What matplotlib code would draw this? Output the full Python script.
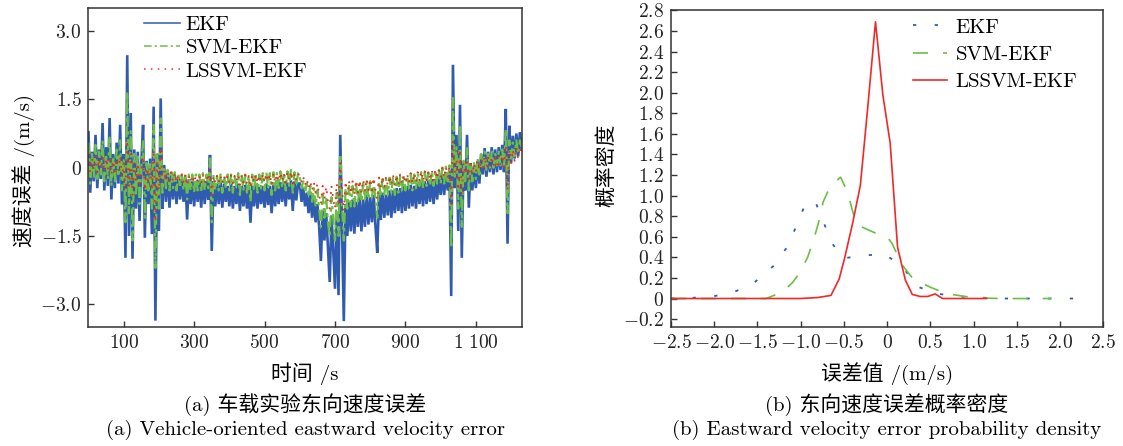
import numpy as np
import matplotlib
matplotlib.use("Agg")
import matplotlib.pyplot as plt
from matplotlib.ticker import FixedLocator, FuncFormatter

plt.rcParams['font.family'] = ['cmr10', 'Noto Sans CJK SC', 'DejaVu Sans']
plt.rcParams['mathtext.fontset'] = 'cm'
plt.rcParams['axes.unicode_minus'] = False

# ---------------- (a) eastward velocity error, sampled every 5 s ----------------
time_s = np.arange(0, 1231, 5)

ekf_err = [
    0.78, -0.55, 0.35, -0.30, 0.72, -0.45, 0.40, -0.25, 0.98, -0.50,
    0.45, -0.40, 1.09, -0.70, 0.30, -0.45, 0.55, -0.35, 0.94, -0.81,
    0.30, -1.98, 2.47, -1.50, 1.20, -2.00, 0.40, -0.90, 0.35, -1.17,
    0.10, 0.94, -1.54, 0.15, -0.80, 0.20, -1.46, 1.34, -3.36, 0.30,
    -1.39, 1.52, -0.90, 0.06, -0.75, -0.05, -0.88, -0.10, -0.70, -0.15,
    -0.80, -0.20, -0.70, -0.25, -0.75, -0.22, -1.14, -0.25, -0.80, -0.30,
    -0.85, -0.30, -0.75, -0.28, -0.88, -0.25, -0.80, -0.30, -0.70, 0.28,
    -1.83, -0.30, -0.85, -0.35, -0.80, -0.30, -0.88, -0.35, -0.75, -0.40,
    -0.85, -0.35, -0.90, -0.40, -0.80, -0.35, -0.95, -0.40, -0.85, -0.38,
    -0.90, -0.42, -1.21, -0.40, -0.85, -0.38, -0.90, -0.42, -0.80, -0.40,
    -0.88, -0.35, -0.82, -0.40, -1.00, -0.35, -0.85, -0.38, -0.80, -0.32,
    -0.75, -0.30, -0.85, -0.33, -0.70, -0.28, -0.95, -0.30, -0.72, -0.35,
    -0.35, -0.75, -0.45, -0.85, -0.55, -1.00, -0.60, -1.10, -0.70, -1.20,
    -0.80, -1.30, -2.05, -0.95, -1.60, -1.00, -1.75, -2.51, -1.05, -1.80,
    -2.66, -1.00, -2.80, 0.72, -1.30, -3.37, -0.80, -1.50, -0.75, -1.40,
    -0.70, -1.45, -0.75, -1.30, -0.65, -1.40, -0.70, -1.30, -0.60, -1.25,
    -0.65, -1.20, -0.60, -1.30, -1.87, -0.60, -1.15, -0.55, -1.10, -0.60,
    -1.05, -0.50, -1.10, -0.50, -1.00, -0.45, -0.95, -0.45, -1.00, -0.40,
    -0.95, -0.40, -0.90, -0.38, -0.85, -0.40, -0.90, -0.35, -0.80, -0.30,
    -0.85, -0.30, -0.80, -0.28, -0.75, -0.25, -0.80, -0.25, -0.70, -0.22,
    -0.60, -0.15, -0.60, -0.10, -0.50, -0.05, -2.82, 2.26, -0.45, 0.72,
    -1.39, 1.38, -1.98, 0.10, -0.50, 0.72, -0.88, 0.10, -0.50, 0.05,
    -0.45, 0.15, -0.35, 0.30, -0.15, 0.43, -0.20, 0.35, -0.10, 0.45,
    -0.15, 0.40, -0.10, 0.45, -0.05, 0.50, -0.10, 1.29, -1.67, 0.92,
    0.10, 0.70, 0.20, 0.75, 0.25, 0.78, 0.40,
]

svm_ekf_err = [
    0.55, -0.35, 0.30, -0.20, 0.50, -0.30, 0.35, -0.15, 0.60, -0.30,
    0.30, -0.25, 0.70, -0.40, 0.25, -0.30, 0.40, -0.20, 0.60, -0.50,
    0.20, -1.20, 1.67, -1.00, 0.80, -1.60, 0.30, -0.60, 0.30, -0.80,
    0.05, 0.60, -1.10, 0.10, -0.50, 0.10, -0.90, 0.94, -2.20, 0.30,
    -0.90, 1.08, -0.55, 0.00, -0.45, -0.05, -0.50, -0.05, -0.45, -0.10,
    -0.50, -0.12, -0.45, -0.15, -0.50, -0.12, -0.70, -0.15, -0.50, -0.15,
    -0.55, -0.15, -0.50, -0.15, -0.55, -0.12, -0.50, -0.15, -0.45, 0.20,
    -1.20, -0.15, -0.50, -0.18, -0.50, -0.15, -0.55, -0.18, -0.45, -0.15,
    -0.50, -0.15, -0.55, -0.18, -0.45, -0.12, -0.60, -0.15, -0.50, -0.15,
    -0.55, -0.18, -0.75, -0.15, -0.50, -0.12, -0.55, -0.15, -0.45, -0.12,
    -0.50, -0.10, -0.45, -0.12, -0.60, -0.10, -0.50, -0.12, -0.45, -0.08,
    -0.45, -0.10, -0.50, -0.08, -0.40, -0.05, -0.55, -0.10, -0.40, -0.12,
    -0.20, -0.45, -0.30, -0.55, -0.35, -0.65, -0.40, -0.75, -0.45, -0.85,
    -0.50, -0.90, -1.30, -0.60, -1.10, -0.65, -1.20, -1.50, -0.65, -1.10,
    -1.60, -0.55, -1.50, 0.30, -0.80, -1.60, -0.45, -0.90, -0.40, -0.85,
    -0.40, -0.85, -0.35, -0.80, -0.35, -0.75, -0.35, -0.70, -0.30, -0.70,
    -0.30, -0.65, -0.30, -0.70, -1.10, -0.30, -0.65, -0.25, -0.60, -0.25,
    -0.60, -0.22, -0.55, -0.20, -0.60, -0.20, -0.55, -0.20, -0.50, -0.18,
    -0.50, -0.18, -0.45, -0.15, -0.50, -0.15, -0.45, -0.12, -0.40, -0.10,
    -0.45, -0.10, -0.40, -0.10, -0.40, -0.08, -0.40, -0.05, -0.35, -0.05,
    -0.35, 0.00, -0.35, 0.02, -0.30, 0.05, -1.76, 1.53, -0.20, 0.45,
    -0.90, 0.95, -1.30, 0.15, -0.30, 0.45, -0.50, 0.10, -0.30, 0.10,
    -0.25, 0.20, -0.15, 0.30, -0.05, 0.35, -0.05, 0.30, 0.00, 0.35,
    0.00, 0.30, 0.05, 0.35, 0.05, 0.40, 0.00, 0.85, -1.00, 0.60,
    0.20, 0.55, 0.25, 0.60, 0.30, 0.60, 0.45,
]

lssvm_ekf_err = [
    0.30, -0.10, 0.20, -0.05, 0.25, -0.10, 0.20, 0.00, 0.30, -0.10,
    0.20, -0.05, 0.25, -0.15, 0.15, -0.10, 0.20, -0.05, 0.25, -0.20,
    0.10, -0.50, 0.60, -0.40, 0.30, -0.60, 0.10, -0.30, 0.10, -0.35,
    -0.05, 0.25, -0.50, 0.00, -0.30, 0.00, -0.50, 0.40, -1.20, 0.10,
    -0.50, 0.45, -0.30, -0.05, -0.30, -0.10, -0.30, -0.10, -0.30, -0.12,
    -0.32, -0.15, -0.30, -0.15, -0.33, -0.15, -0.40, -0.18, -0.32, -0.17,
    -0.33, -0.17, -0.30, -0.18, -0.35, -0.16, -0.33, -0.18, -0.30, -0.05,
    -0.60, -0.18, -0.33, -0.18, -0.32, -0.17, -0.35, -0.18, -0.30, -0.17,
    -0.33, -0.17, -0.35, -0.18, -0.30, -0.15, -0.38, -0.17, -0.33, -0.16,
    -0.35, -0.18, -0.45, -0.15, -0.32, -0.15, -0.35, -0.16, -0.30, -0.14,
    -0.33, -0.13, -0.30, -0.14, -0.38, -0.12, -0.33, -0.14, -0.30, -0.10,
    -0.30, -0.12, -0.33, -0.10, -0.28, -0.08, -0.35, -0.12, -0.28, -0.15,
    -0.15, -0.32, -0.20, -0.38, -0.25, -0.45, -0.30, -0.50, -0.32, -0.55,
    -0.35, -0.60, -0.80, -0.40, -0.70, -0.42, -0.75, -0.90, -0.40, -0.70,
    -0.90, -0.35, -0.85, 0.10, -0.50, -0.95, -0.30, -0.60, -0.30, -0.58,
    -0.30, -0.60, -0.28, -0.55, -0.28, -0.55, -0.27, -0.52, -0.25, -0.50,
    -0.25, -0.50, -0.22, -0.50, -0.70, -0.22, -0.45, -0.20, -0.42, -0.20,
    -0.40, -0.18, -0.38, -0.17, -0.40, -0.16, -0.38, -0.15, -0.35, -0.15,
    -0.35, -0.14, -0.33, -0.12, -0.35, -0.12, -0.32, -0.10, -0.30, -0.08,
    -0.30, -0.08, -0.28, -0.07, -0.28, -0.05, -0.27, -0.04, -0.25, -0.03,
    -0.22, 0.00, -0.22, 0.02, -0.20, 0.03, -0.80, 0.60, -0.12, 0.20,
    -0.50, 0.40, -0.60, 0.10, -0.15, 0.20, -0.25, 0.08, -0.15, 0.10,
    -0.10, 0.15, -0.05, 0.20, 0.00, 0.25, 0.00, 0.22, 0.02, 0.25,
    0.02, 0.22, 0.05, 0.25, 0.05, 0.28, 0.02, 0.50, -0.50, 0.40,
    0.10, 0.40, 0.15, 0.45, 0.20, 0.45, 0.35,
]

time_ticks = [100, 300, 500, 700, 900, 1100]
time_tick_labels = ['100', '300', '500', '700', '900', '1\\ 100']
vel_ticks = [3.0, 1.5, 0.0, -1.5, -3.0]

# ---------------- (b) probability density of the error ----------------
pdf_ekf_x = [-2.5, -2.26, -2.02, -1.78, -1.55, -1.31, -1.14, -1.04, -0.94, -0.83,
             -0.74, -0.64, -0.51, -0.27, -0.03, 0.17, 0.34, 0.55, 0.82, 1.06, 1.30, 2.3]
pdf_ekf_y = [0.0, 0.006, 0.02, 0.06, 0.145, 0.32, 0.52, 0.73, 0.93, 0.94,
             0.75, 0.54, 0.39, 0.42, 0.43, 0.32, 0.12, 0.05, 0.02, 0.01, 0.0, 0.0]

pdf_svm_x = [-2.5, -1.78, -1.4, -1.22, -1.1, -1.01, -0.92, -0.84, -0.79, -0.74,
             -0.67, -0.6, -0.54, -0.46, -0.40, -0.36, -0.33, -0.2, -0.09, 0.0,
             0.06, 0.17, 0.30, 0.5, 0.67, 0.9, 1.06, 1.3, 1.9]
pdf_svm_y = [0.0, 0.0, 0.0, 0.06, 0.15, 0.25, 0.40, 0.60, 0.75, 0.94,
             1.07, 1.13, 1.18, 1.04, 0.85, 0.74, 0.71, 0.66, 0.62, 0.60,
             0.53, 0.33, 0.19, 0.11, 0.05, 0.02, 0.006, 0.0, 0.0]

pdf_lssvm_x = [-2.5, -1.0, -0.8, -0.65, -0.555, -0.49, -0.40, -0.31, -0.22, -0.135,
               -0.05, 0.035, 0.12, 0.21, 0.29, 0.38, 0.47, 0.555, 0.64, 1.15]
pdf_lssvm_y = [0.0, 0.0, 0.01, 0.03, 0.19, 0.40, 0.73, 1.10, 1.90, 2.69,
               1.98, 1.51, 0.50, 0.18, 0.04, 0.02, 0.02, 0.045, 0.0, 0.0]

err_ticks = [-2.5, -2.0, -1.5, -1.0, -0.5, 0.0, 0.5, 1.0, 1.5, 2.0, 2.5]
dens_ticks = [-0.2, 0.0, 0.2, 0.4, 0.6, 0.8, 1.0, 1.2, 1.4, 1.6, 1.8, 2.0,
              2.2, 2.4, 2.6, 2.8]

BLUE = '#2f5cb0'
GREEN = '#6cbf45'
RED = '#f02828'
FRAME = '#333333'
TICK_FS = 14
LABEL_FS = 15


def num_label(v, _pos=None):
    if abs(v) < 1e-9:
        return '$0$'
    return '${:.1f}$'.format(v)


def style_axes(ax):
    for sp in ax.spines.values():
        sp.set_color(FRAME)
        sp.set_linewidth(1.1)
    ax.tick_params(direction='in', length=4, width=1.0, color=FRAME,
                   labelsize=TICK_FS, labelcolor='#222222', pad=5)


fig = plt.figure(figsize=(11.23, 4.46), dpi=100)

# ---- left panel ----
ax1 = fig.add_axes([0.0788, 0.2668, 0.3857, 0.7146])
ax1.plot(time_s, ekf_err, color=BLUE, lw=1.9, solid_joinstyle='miter',
         label='EKF')
ax1.plot(time_s, svm_ekf_err, color=GREEN, lw=1.6, dashes=(5, 2, 1.5, 2),
         label='SVM-EKF')
ax1.plot(time_s, lssvm_ekf_err, color=RED, lw=1.3, dashes=(1, 3.5),
         label='LSSVM-EKF')
ax1.set_xlim(0, 1230)
ax1.set_ylim(-3.5, 3.5)
ax1.xaxis.set_major_locator(FixedLocator(time_ticks))
ax1.xaxis.set_major_formatter(FuncFormatter(
    lambda v, p: '$' + time_tick_labels[time_ticks.index(int(round(v)))] + '$'))
ax1.yaxis.set_major_locator(FixedLocator(vel_ticks))
ax1.yaxis.set_major_formatter(FuncFormatter(num_label))
style_axes(ax1)
ax1.set_xlabel('时间 /s', fontsize=LABEL_FS)
ax1.xaxis.set_label_coords(0.5, -0.145)
ax1.xaxis.label.set_verticalalignment('center')
ax1.set_ylabel('速度误差 /(m/s)', fontsize=LABEL_FS)
ax1.yaxis.set_label_coords(-0.149, 0.49)
ax1.yaxis.label.set_verticalalignment('center')
leg1 = ax1.legend(loc='upper left', bbox_to_anchor=(0.128, 0.977), frameon=False,
                  fontsize=LABEL_FS, handlelength=1.75, handletextpad=0.25,
                  labelspacing=0.22, borderpad=0, borderaxespad=0)
for h in leg1.get_lines():
    h.set_linewidth(1.1)

# ---- right panel ----
ax2 = fig.add_axes([0.5975, 0.2661, 0.3850, 0.7104])
ax2.plot(pdf_ekf_x, pdf_ekf_y, color=BLUE, lw=1.3, dashes=(1.8, 10.2),
         label='EKF')
ax2.plot(pdf_svm_x, pdf_svm_y, color=GREEN, lw=1.2, dashes=(9, 9),
         label='SVM-EKF')
ax2.plot(pdf_lssvm_x, pdf_lssvm_y, color=RED, lw=1.2, label='LSSVM-EKF')
ax2.set_xlim(-2.5, 2.5)
ax2.set_ylim(-0.28, 2.8)
ax2.xaxis.set_major_locator(FixedLocator(err_ticks))
ax2.xaxis.set_major_formatter(FuncFormatter(num_label))
ax2.yaxis.set_major_locator(FixedLocator(dens_ticks))
ax2.yaxis.set_major_formatter(FuncFormatter(num_label))
style_axes(ax2)
ax2.set_xlabel('误差值 /(m/s)', fontsize=LABEL_FS)
ax2.xaxis.set_label_coords(0.5, -0.145)
ax2.xaxis.label.set_verticalalignment('center')
ax2.set_ylabel('概率密度', fontsize=LABEL_FS)
ax2.yaxis.set_label_coords(-0.149, 0.51)
ax2.yaxis.label.set_verticalalignment('center')
leg2 = ax2.legend(loc='upper left', bbox_to_anchor=(0.56, 0.976), frameon=False,
                  fontsize=LABEL_FS, handlelength=1.65, handletextpad=0.4,
                  labelspacing=0.42, borderpad=0, borderaxespad=0)

# ---- captions ----
fig.text(305 / 1123, 1 - 405 / 446, '(a) 车载实验东向速度误差', ha='center',
         va='center', fontsize=LABEL_FS)
fig.text(305 / 1123, 1 - 430 / 446, '(a) Vehicle-oriented eastward velocity error',
         ha='center', va='center', fontsize=LABEL_FS)
fig.text(887 / 1123, 1 - 405 / 446, '(b) 东向速度误差概率密度', ha='center',
         va='center', fontsize=LABEL_FS)
fig.text(887 / 1123, 1 - 430 / 446, '(b) Eastward velocity error probability density',
         ha='center', va='center', fontsize=LABEL_FS)

fig.savefig('out.png', dpi=100)
